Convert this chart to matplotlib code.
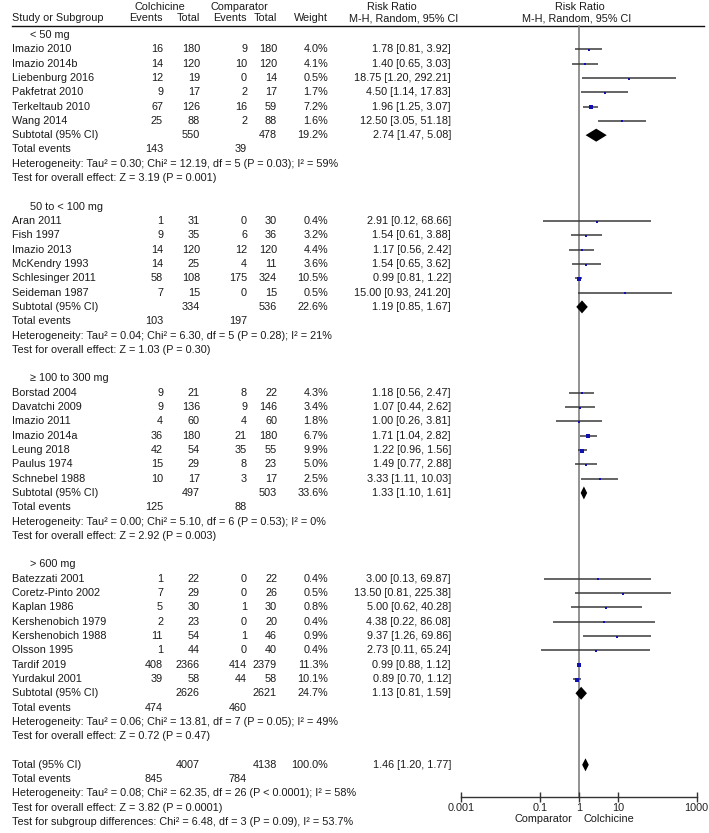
import matplotlib
matplotlib.use("Agg")
import matplotlib.pyplot as plt
import numpy as np

plt.rcParams['font.family'] = ['Liberation Sans', 'DejaVu Sans']

# ---------------- data ----------------
group_names = ["< 50 mg", "50 to < 100 mg", "\u2265 100 to 300 mg", "> 600 mg"]

g1_studies = ["Imazio 2010", "Imazio 2014b", "Liebenburg 2016", "Pakfetrat 2010", "Terkeltaub 2010", "Wang 2014"]
g1_col_events = [16, 14, 12, 9, 67, 25]
g1_col_total = [180, 120, 19, 17, 126, 88]
g1_cmp_events = [9, 10, 0, 2, 16, 2]
g1_cmp_total = [180, 120, 14, 17, 59, 88]
g1_weight = [4.0, 4.1, 0.5, 1.7, 7.2, 1.6]
g1_rr = [1.78, 1.40, 18.75, 4.50, 1.96, 12.50]
g1_lo = [0.81, 0.65, 1.20, 1.14, 1.25, 3.05]
g1_hi = [3.92, 3.03, 292.21, 17.83, 3.07, 51.18]

g2_studies = ["Aran 2011", "Fish 1997", "Imazio 2013", "McKendry 1993", "Schlesinger 2011", "Seideman 1987"]
g2_col_events = [1, 9, 14, 14, 58, 7]
g2_col_total = [31, 35, 120, 25, 108, 15]
g2_cmp_events = [0, 6, 12, 4, 175, 0]
g2_cmp_total = [30, 36, 120, 11, 324, 15]
g2_weight = [0.4, 3.2, 4.4, 3.6, 10.5, 0.5]
g2_rr = [2.91, 1.54, 1.17, 1.54, 0.99, 15.00]
g2_lo = [0.12, 0.61, 0.56, 0.65, 0.81, 0.93]
g2_hi = [68.66, 3.88, 2.42, 3.62, 1.22, 241.20]

g3_studies = ["Borstad 2004", "Davatchi 2009", "Imazio 2011", "Imazio 2014a", "Leung 2018", "Paulus 1974", "Schnebel 1988"]
g3_col_events = [9, 9, 4, 36, 42, 15, 10]
g3_col_total = [21, 136, 60, 180, 54, 29, 17]
g3_cmp_events = [8, 9, 4, 21, 35, 8, 3]
g3_cmp_total = [22, 146, 60, 180, 55, 23, 17]
g3_weight = [4.3, 3.4, 1.8, 6.7, 9.9, 5.0, 2.5]
g3_rr = [1.18, 1.07, 1.00, 1.71, 1.22, 1.49, 3.33]
g3_lo = [0.56, 0.44, 0.26, 1.04, 0.96, 0.77, 1.11]
g3_hi = [2.47, 2.62, 3.81, 2.82, 1.56, 2.88, 10.03]

g4_studies = ["Batezzati 2001", "Coretz-Pinto 2002", "Kaplan 1986", "Kershenobich 1979", "Kershenobich 1988", "Olsson 1995", "Tardif 2019", "Yurdakul 2001"]
g4_col_events = [1, 7, 5, 2, 11, 1, 408, 39]
g4_col_total = [22, 29, 30, 23, 54, 44, 2366, 58]
g4_cmp_events = [0, 0, 1, 0, 1, 0, 414, 44]
g4_cmp_total = [22, 26, 30, 20, 46, 40, 2379, 58]
g4_weight = [0.4, 0.5, 0.8, 0.4, 0.9, 0.4, 11.3, 10.1]
g4_rr = [3.00, 13.50, 5.00, 4.38, 9.37, 2.73, 0.99, 0.89]
g4_lo = [0.13, 0.81, 0.62, 0.22, 1.26, 0.11, 0.88, 0.70]
g4_hi = [69.87, 225.38, 40.28, 86.08, 69.86, 65.24, 1.12, 1.12]

sub_col_total = [550, 334, 497, 2626]
sub_cmp_total = [478, 536, 503, 2621]
sub_weight = [19.2, 22.6, 33.6, 24.7]
sub_rr = [2.74, 1.19, 1.33, 1.13]
sub_lo = [1.47, 0.85, 1.10, 0.81]
sub_hi = [5.08, 1.67, 1.61, 1.59]
sub_col_events = [143, 103, 125, 474]
sub_cmp_events = [39, 197, 88, 460]
sub_het = ["Heterogeneity: Tau\u00b2 = 0.30; Chi\u00b2 = 12.19, df = 5 (P = 0.03); I\u00b2 = 59%",
           "Heterogeneity: Tau\u00b2 = 0.04; Chi\u00b2 = 6.30, df = 5 (P = 0.28); I\u00b2 = 21%",
           "Heterogeneity: Tau\u00b2 = 0.00; Chi\u00b2 = 5.10, df = 6 (P = 0.53); I\u00b2 = 0%",
           "Heterogeneity: Tau\u00b2 = 0.06; Chi\u00b2 = 13.81, df = 7 (P = 0.05); I\u00b2 = 49%"]
sub_test = ["Test for overall effect: Z = 3.19 (P = 0.001)",
            "Test for overall effect: Z = 1.03 (P = 0.30)",
            "Test for overall effect: Z = 2.92 (P = 0.003)",
            "Test for overall effect: Z = 0.72 (P = 0.47)"]

total_col_total = 4007
total_cmp_total = 4138
total_weight = 100.0
total_rr = 1.46
total_lo = 1.20
total_hi = 1.77
total_col_events = 845
total_cmp_events = 784
total_het = "Heterogeneity: Tau\u00b2 = 0.08; Chi\u00b2 = 62.35, df = 26 (P < 0.0001); I\u00b2 = 58%"
total_test = "Test for overall effect: Z = 3.82 (P = 0.0001)"
subgroup_test = "Test for subgroup differences: Chi\u00b2 = 6.48, df = 3 (P = 0.09), I\u00b2 = 53.7%"

axis_ticks = [0.001, 0.1, 1, 10, 1000]
axis_ticklabels = ["0.001", "0.1", "1", "10", "1000"]

groups = [
    (g1_studies, g1_col_events, g1_col_total, g1_cmp_events, g1_cmp_total, g1_weight, g1_rr, g1_lo, g1_hi),
    (g2_studies, g2_col_events, g2_col_total, g2_cmp_events, g2_cmp_total, g2_weight, g2_rr, g2_lo, g2_hi),
    (g3_studies, g3_col_events, g3_col_total, g3_cmp_events, g3_cmp_total, g3_weight, g3_rr, g3_lo, g3_hi),
    (g4_studies, g4_col_events, g4_col_total, g4_cmp_events, g4_cmp_total, g4_weight, g4_rr, g4_lo, g4_hi),
]

# ---------------- layout ----------------
W, H = 709, 833
fig = plt.figure(figsize=(W / 100, H / 100), dpi=100)
ax = fig.add_axes([0, 0, 1, 1])
ax.set_xlim(0, W)
ax.set_ylim(H, 0)
ax.axis('off')

FS = 7.85
TC = '#1a1a1a'

fx0, fx1 = 461.4, 696.7
fax = fig.add_axes([fx0 / W, 0, (fx1 - fx0) / W, 1])
fax.set_xscale('log')
fax.set_xlim(0.001, 1000)
fax.set_ylim(H, 0)
fax.patch.set_alpha(0)
for s in ['left', 'right', 'top']:
    fax.spines[s].set_visible(False)
AXIS_Y = 797
fax.spines['bottom'].set_position(('data', AXIS_Y))
fax.spines['bottom'].set_color('#333333')
fax.spines['bottom'].set_linewidth(1.0)
fax.set_yticks([])
fax.set_xticks(axis_ticks)
fax.set_xticklabels(axis_ticklabels)
fax.xaxis.set_minor_locator(matplotlib.ticker.NullLocator())
fax.tick_params(axis='x', direction='inout', length=7, width=1.0, color='#333333',
                labelsize=FS, pad=0.5, labelcolor='#222222')

X_NAME = 12
X_HEAD = 30
X_CE = 163
X_CT = 200
X_PE = 247
X_PT = 277
X_W = 328
X_RR = 451

def txt(x, y, s, ha='left', **kw):
    ax.text(x, y, s, ha=ha, va='center', fontsize=FS, color=TC, **kw)

# header
txt(160, 6.5, "Colchicine", ha='center')
txt(239, 6.5, "Comparator", ha='center')
txt(392, 6.5, "Risk Ratio", ha='center')
txt(580, 6.5, "Risk Ratio", ha='center')
HY = 18
txt(X_NAME, HY, "Study or Subgroup")
txt(X_CE, HY, "Events", ha='right')
txt(X_CT, HY, "Total", ha='right')
txt(X_PE, HY, "Events", ha='right')
txt(X_PT, HY, "Total", ha='right')
txt(X_W, HY, "Weight", ha='right')
txt(404, HY, "M-H, Random, 95% CI", ha='center')
txt(577, HY, "M-H, Random, 95% CI", ha='center')
ax.plot([X_NAME, 704], [25.5, 25.5], color='#111111', lw=1.0)

ROW0 = 35.0
DY = 14.31
BLUE = '#1010b0'
LINEC = '#3a3a3a'

def fmt_rr(r, l, h):
    return f"{r:.2f} [{l:.2f}, {h:.2f}]"

def diamond(y, r, l, h, hh=6.5):
    fax.fill([l, r, h, r], [y, y - hh, y, y + hh], color='black', lw=0, clip_on=False, zorder=3)

row = 0
for gi, g in enumerate(groups):
    names, ce, ct, pe, pt, wt, rr, lo, hi = g
    y = ROW0 + row * DY
    txt(X_HEAD, y, group_names[gi])
    row += 1
    for k in range(len(names)):
        y = ROW0 + row * DY
        txt(X_NAME, y, names[k])
        txt(X_CE, y, str(ce[k]), ha='right')
        txt(X_CT, y, str(ct[k]), ha='right')
        txt(X_PE, y, str(pe[k]), ha='right')
        txt(X_PT, y, str(pt[k]), ha='right')
        txt(X_W, y, f"{wt[k]:.1f}%", ha='right')
        txt(X_RR, y, fmt_rr(rr[k], lo[k], hi[k]), ha='right')
        fax.plot([lo[k], hi[k]], [y, y], color=LINEC, lw=1.1, clip_on=False, solid_capstyle='butt')
        side_px = 1.6 + 0.24 * wt[k]
        fax.scatter([rr[k]], [y + 0.6], marker='s', s=(side_px * 0.72) ** 2, color=BLUE,
                    linewidths=0, zorder=3, clip_on=False)
        row += 1
    y = ROW0 + row * DY
    txt(X_NAME, y, "Subtotal (95% CI)")
    txt(X_CT, y, str(sub_col_total[gi]), ha='right')
    txt(X_PT, y, str(sub_cmp_total[gi]), ha='right')
    txt(X_W, y, f"{sub_weight[gi]:.1f}%", ha='right')
    txt(X_RR, y, fmt_rr(sub_rr[gi], sub_lo[gi], sub_hi[gi]), ha='right')
    diamond(y, sub_rr[gi], sub_lo[gi], sub_hi[gi])
    row += 1
    y = ROW0 + row * DY
    txt(X_NAME, y, "Total events")
    txt(X_CE, y, str(sub_col_events[gi]), ha='right')
    txt(X_PE, y, str(sub_cmp_events[gi]), ha='right')
    row += 1
    txt(X_NAME, ROW0 + row * DY, sub_het[gi])
    row += 1
    txt(X_NAME, ROW0 + row * DY, sub_test[gi])
    row += 2

y = ROW0 + row * DY
txt(X_NAME, y, "Total (95% CI)")
txt(X_CT, y, str(total_col_total), ha='right')
txt(X_PT, y, str(total_cmp_total), ha='right')
txt(X_W, y, f"{total_weight:.1f}%", ha='right')
txt(X_RR, y, fmt_rr(total_rr, total_lo, total_hi), ha='right')
diamond(y, total_rr, total_lo, total_hi)
row += 1
y = ROW0 + row * DY
txt(X_NAME, y, "Total events")
txt(X_CE, y, str(total_col_events), ha='right')
txt(X_PE, y, str(total_cmp_events), ha='right')
row += 1
txt(X_NAME, ROW0 + row * DY, total_het)
row += 1
txt(X_NAME, ROW0 + row * DY, total_test)
row += 1
txt(X_NAME, ROW0 + row * DY, subgroup_test)

# null line
fax.plot([1, 1], [25.5, AXIS_Y], color='#7f7f7f', lw=1.2, zorder=1, clip_on=False)

# axis captions
txt(572, 819.5, "Comparator", ha='right')
txt(584, 819.5, "Colchicine", ha='left')

fig.savefig("out.png", dpi=100)
